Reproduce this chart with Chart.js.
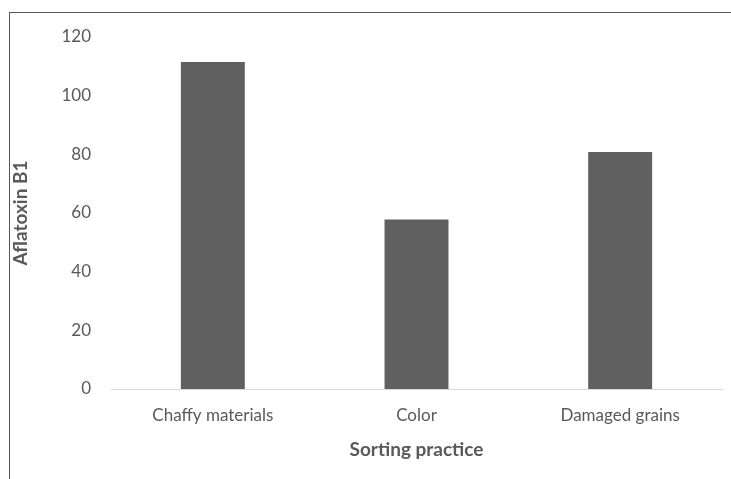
<!DOCTYPE html>
<html><head><meta charset="utf-8">
<script src="https://cdn.jsdelivr.net/npm/chart.js@4"></script>
<style>
html,body{margin:0;padding:0;background:#fff;width:731px;height:479px;overflow:hidden;}
#frame{position:absolute;left:9px;top:12px;width:800px;height:600px;border-top:1px solid #555;border-left:1px solid #555;box-sizing:border-box;}
#wrap{position:absolute;left:0;top:0;width:731px;height:479px;}
</style></head><body>
<div id="frame"></div>
<div id="wrap"><canvas id="c" width="731" height="479"></canvas></div>
<script>
const categories = ["Chaffy materials", "Color", "Damaged grains"];
const aflatoxinValues = [111.5, 57.8, 80.8];
const yTicks = [0, 20, 40, 60, 80, 100, 120];

const txt = '#595959';
new Chart(document.getElementById('c'), {
  type: 'bar',
  data: {
    labels: categories,
    datasets: [{
      data: aflatoxinValues,
      backgroundColor: '#606060',
      borderWidth: 0,
      categoryPercentage: 1,
      barPercentage: 0.314
    }]
  },
  options: {
    responsive: false,
    animation: false,
    layout: { padding: { top: 37, right: 9, bottom: 14, left: 0 } },
    plugins: { legend: { display: false }, tooltip: { enabled: false } },
    scales: {
      x: {
        grid: { display: false },
        border: { display: true, color: '#d9d9d9', width: 1 },
        ticks: { color: txt, font: { family: 'Lato', size: 17 }, padding: 8 },
        title: { display: true, text: 'Sorting practice', color: txt, font: { family: 'Lato', size: 19, weight: 'bold' }, padding: { top: 8 } },
        afterFit: s => { s.height = 76; }
      },
      y: {
        min: 0, max: 120,
        afterBuildTicks: s => { s.ticks = yTicks.map(v => ({ value: v })); },
        grid: { display: false },
        border: { display: false },
        ticks: { color: txt, font: { family: 'Lato', size: 17 }, padding: 12 },
        title: { display: true, text: 'Aflatoxin B1', color: txt, font: { family: 'Lato', size: 19, weight: 'bold' }, padding: { top: 9, bottom: 0 } },
        afterFit: s => { s.width = 111; }
      }
    }
  }
});
</script>
</body></html>
